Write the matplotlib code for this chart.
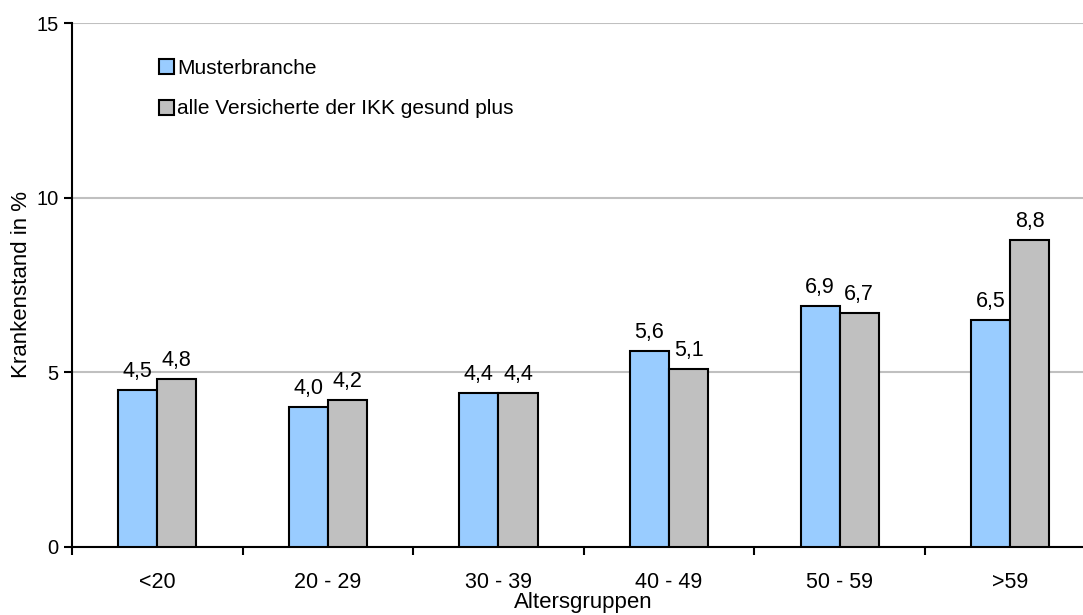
import numpy as np
import matplotlib
matplotlib.use("Agg")
import matplotlib.pyplot as plt

plt.rcParams['font.family'] = ['Liberation Sans', 'DejaVu Sans']

groups = ['<20', '20 - 29', '30 - 39', '40 - 49', '50 - 59', '>59']
muster = [4.5, 4.0, 4.4, 5.6, 6.9, 6.5]
alle = [4.8, 4.2, 4.4, 5.1, 6.7, 8.8]
series_names = ['Musterbranche', 'alle Versicherte der IKK gesund plus']

fig = plt.figure(figsize=(10.83, 6.15), dpi=100)
# axes runs a little past the right edge of the figure, like the original
ax = fig.add_axes([0.0665, 0.1106, 0.945, 0.852])

x = np.arange(len(groups))
w = 0.229
b1 = ax.bar(x - w/2, muster, w, color='#99CCFF', edgecolor='black', linewidth=1.5,
            label=series_names[0], zorder=3)
b2 = ax.bar(x + w/2, alle, w, color='#C0C0C0', edgecolor='black', linewidth=1.5,
            label=series_names[1], zorder=3)

for bars in (b1, b2):
    for r in bars:
        h = r.get_height()
        ax.text(r.get_x() + r.get_width()/2, h + 0.23, ('%.1f' % h).replace('.', ','),
                ha='center', va='bottom', fontsize=15.5)

ax.set_xlim(-0.5, len(groups) - 0.5)
ax.set_ylim(0, 15)
ax.set_yticks([0, 5, 10, 15])
ax.yaxis.grid(True, color='#C0C0C0', linewidth=1.5, zorder=0)
ax.set_axisbelow(True)

ax.set_xticks(x)
ax.set_xticklabels(groups, fontsize=15.5)
ax.tick_params(axis='x', length=0, pad=18)
ax.set_xticks(np.arange(len(groups)) - 0.5, minor=True)
ax.tick_params(axis='x', which='minor', length=6, width=1.5, direction='out')
ax.tick_params(axis='y', length=6, width=1.5, direction='out', labelsize=14.5)

for s in ['top', 'right']:
    ax.spines[s].set_visible(False)
ax.spines['left'].set_linewidth(1.5)
ax.spines['bottom'].set_linewidth(1.5)

ax.set_ylabel('Krankenstand in %', fontsize=16)
ax.yaxis.set_label_coords(-0.039, 0.5)
ax.set_xlabel('Altersgruppen', fontsize=16, labelpad=-1)

leg = ax.legend(loc='upper left', bbox_to_anchor=(0.067, 0.968), frameon=False,
                fontsize=15, handlelength=0.72, handleheight=0.72, handletextpad=0.15,
                labelspacing=1.05)

fig.savefig('out.png', dpi=100)
